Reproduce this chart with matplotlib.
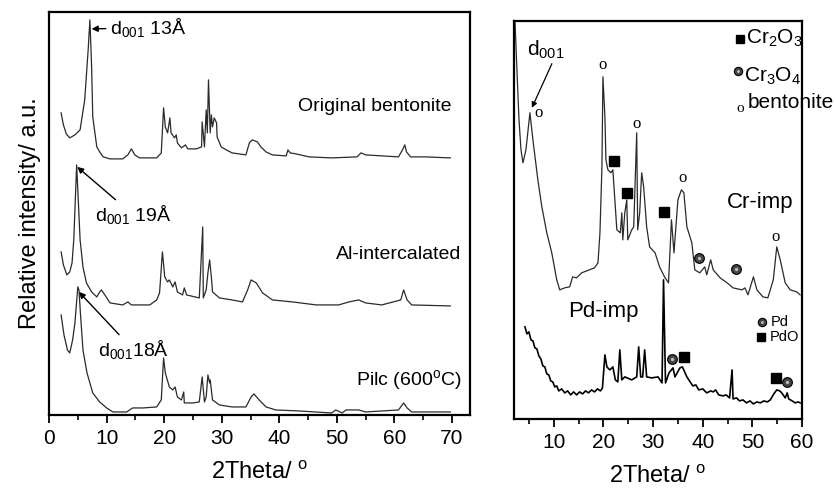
import numpy as np
import matplotlib
matplotlib.use('Agg')
import matplotlib.pyplot as plt

plt.rcParams['font.family'] = ['Liberation Sans', 'DejaVu Sans']
plt.rcParams['mathtext.fontset'] = 'custom'
plt.rcParams['mathtext.rm'] = 'Liberation Sans'
plt.rcParams['mathtext.it'] = 'Liberation Sans:italic'

# ---- left panel: XRD of bentonite samples (2theta, intensity a.u.)
orig_x = [2.1, 2.5, 3.0, 3.6, 4.5, 5.4, 6.2, 6.8, 7.1, 7.4, 7.6, 8.3, 8.8, 9.4, 10.6, 12.8, 13.7,
          14.3, 14.9, 15.7, 18.7, 19.5, 19.9, 20.2, 20.6, 21.0, 21.2, 21.8, 22.1, 22.3, 23.0, 23.7,
          24.1, 25.6, 26.5, 26.6, 27.0, 27.3, 27.5, 27.7, 28.0, 28.2, 28.4, 28.7, 29.1, 29.2, 29.9,
          30.8, 31.8, 34.2, 34.8, 35.3, 36.2, 36.8, 37.7, 38.8, 41.2, 41.5, 41.9, 42.9, 45.2, 49.1,
          53.5, 54.2, 55.0, 60.7, 61.4, 61.8, 62.1, 62.8, 65.4, 69.7]
orig_y = [302, 290, 281, 277, 280, 285, 315, 365, 395, 348, 298, 268, 263, 258, 256, 256, 260,
          266, 260, 257, 257, 262, 307, 288, 282, 297, 282, 277, 280, 272, 267, 270,
          266, 266, 268, 293, 268, 305, 282, 335, 282, 300, 288, 297, 292, 278, 268,
          265, 262, 260, 272, 275, 273, 268, 263, 260, 259, 265, 262, 261, 258, 257,
          258, 262, 260, 258, 265, 270, 263, 258, 258, 257]

al_x = [2.1, 2.5, 3.1, 3.6, 4.0, 4.3, 4.8, 5.4, 5.9, 6.5, 7.4, 8.3, 8.8, 9.1, 9.7, 10.6, 12.8,
        13.7, 14.3, 17.5, 18.7, 19.2, 19.7, 20.1, 20.6, 20.9, 21.5, 21.9, 22.3, 23.2, 23.5, 23.9,
        26.1, 26.7, 26.8, 27.3, 27.6, 27.9, 28.2, 28.4, 29.6, 31.8, 33.6, 34.5, 35.1, 36.0, 37.1,
        38.8, 42.3, 46.4, 50.3, 52.1, 53.8, 55.0, 57.8, 61.1, 61.6, 62.2, 63.0, 69.7]
al_y = [163, 150, 140, 143, 152, 175, 250, 175, 148, 132, 123, 118, 123, 125, 120, 112, 110,
        113, 110, 110, 115, 122, 163, 138, 133, 135, 128, 133, 123, 120, 127, 120,
        117, 188, 117, 125, 142, 155, 138, 123, 117, 115, 113, 125, 135, 132, 122,
        115, 113, 110, 110, 113, 115, 112, 110, 115, 125, 115, 110, 109]

pilc_x = [2.1, 2.6, 3.2, 3.6, 4.1, 4.5, 5.0, 5.2, 5.5, 5.9, 6.6, 7.6, 8.8, 10.0, 11.1, 13.5, 14.5,
          16.3, 18.7, 19.5, 19.9, 20.2, 20.9, 21.5, 21.9, 22.3, 23.0, 23.4, 23.5, 25.0, 26.1, 26.6,
          27.0, 27.3, 27.6, 27.9, 28.0, 28.4, 29.6, 31.8, 34.2, 35.1, 35.6, 36.5, 37.7, 39.4, 43.4,
          49.1, 49.8, 50.9, 51.6, 53.8, 55.0, 60.7, 61.6, 62.2, 63.0, 69.7]
pilc_y = [100, 80, 65, 62, 75, 92, 128, 125, 98, 65, 42, 22, 13, 7, 3, 3, 7,
          7, 8, 15, 57, 42, 28, 25, 28, 18, 15, 23, 12, 12, 13, 38,
          13, 18, 40, 32, 35, 15, 10, 8, 8, 18, 21, 15, 8, 5, 4,
          2, 5, 2, 5, 5, 3, 5, 12, 7, 3, 3]

# ---- right panel: Cr and Pd impregnated samples
cr_x = [2.2, 2.5, 3.0, 3.4, 3.8, 4.4, 5.2, 5.8, 6.8, 7.6, 8.6, 9.6, 10.6, 11.2, 12.2, 13.2, 13.8,
        14.6, 15.6, 18.2, 18.9, 19.3, 19.7, 19.9, 20.3, 20.5, 20.9, 21.5, 21.9, 22.3, 22.7, 23.4,
        23.7, 23.9, 24.3, 24.7, 24.9, 25.7, 26.1, 26.7, 26.9, 27.3, 27.7, 28.1, 28.7, 29.3, 30.4,
        31.3, 32.3, 33.1, 33.7, 34.2, 35.0, 35.7, 36.2, 36.8, 37.8, 38.4, 39.4, 40.4, 40.8, 41.6,
        42.1, 43.5, 44.9, 46.1, 47.9, 48.5, 49.1, 50.2, 50.9, 52.1, 53.1, 54.2, 54.9, 55.6, 56.6,
        57.6, 58.9, 59.6]
cr_y = [397, 359, 299, 269, 256, 269, 306, 279, 239, 212, 186, 166, 139, 129, 131, 132, 142,
        141, 146, 151, 156, 186, 252, 342, 302, 259, 249, 246, 249, 219, 189, 186,
        206, 179, 206, 219, 179, 189, 192, 286, 189, 206, 246, 232, 192, 172, 166,
        152, 142, 136, 199, 166, 219, 229, 226, 192, 176, 149, 146, 152, 144, 159,
        149, 141, 136, 131, 129, 131, 124, 142, 129, 122, 121, 139, 172, 159, 136,
        129, 127, 124]

pd_x = [4.2, 4.6, 5.0, 5.4, 5.8, 6.2, 6.6, 7.0, 7.4, 7.8, 8.2, 8.6, 9.0, 9.4, 9.8, 10.2, 10.6,
        11.0, 11.6, 12.2, 12.8, 13.4, 14.0, 14.6, 15.2, 15.8, 16.4, 17.0, 17.6, 18.2, 18.8, 19.4,
        19.8, 20.3, 20.7, 21.3, 21.9, 22.4, 22.9, 23.3, 23.7, 24.3, 25.7, 26.7, 27.1, 27.5, 27.9,
        28.3, 28.7, 29.7, 31.0, 31.8, 32.1, 32.5, 33.2, 34.0, 34.4, 35.4, 35.9, 36.8, 38.0, 38.6,
        39.2, 40.0, 40.8, 41.6, 42.1, 42.6, 43.2, 44.1, 44.7, 45.4, 45.9, 46.1, 46.8, 47.4, 48.1,
        48.8, 49.5, 50.2, 50.9, 51.6, 52.3, 53.0, 53.6, 54.3, 54.9, 55.5, 55.9, 56.6, 57.0, 57.3,
        58.0, 58.6, 59.2, 59.6]
pd_y = [92, 85, 87, 79, 78, 71, 70, 63, 60, 53, 52, 45, 44, 38, 37, 32, 33,
        28, 30, 26, 28, 24, 27, 24, 27, 25, 28, 26, 29, 27, 30, 28,
        31, 64, 52, 49, 52, 39, 37, 69, 39, 42, 39, 42, 72, 42, 42,
        69, 42, 41, 42, 36, 139, 36, 46, 51, 42, 51, 52, 42, 33, 34,
        29, 30, 26, 28, 27, 29, 24, 23, 24, 21, 49, 20, 21, 18, 19,
        16, 18, 15, 17, 16, 18, 17, 19, 25, 29, 28, 26, 21, 26, 20,
        18, 16, 17, 16]

# phase markers (right panel)
bent_x = [7.0, 19.9, 26.7, 36.0, 54.7]
bent_y = [306, 354, 295, 241, 182]
cr2o3_x = [22.1, 24.7, 32.2]
cr2o3_y = [258, 226, 207]
cr3o4_x = [39.2, 46.7]
cr3o4_y = [161, 150]
pd_mark_x = [33.8, 57.0]
pd_mark_y = [60, 37]
pdo_x = [36.2, 54.7]
pdo_y = [62, 41]

lc = '#2a2a2a'

fig = plt.figure(figsize=(8.35, 4.94), dpi=100)
ax1 = fig.add_axes([0.0587, 0.160, 0.504, 0.816])
ax2 = fig.add_axes([0.6156, 0.152, 0.345, 0.806])

ax1.plot(orig_x, orig_y, color=lc, lw=0.9)
ax1.plot(al_x, al_y, color=lc, lw=0.9)
ax1.plot(pilc_x, pilc_y, color=lc, lw=0.9)
ax1.set_xlim(0, 73.1)
ax1.set_ylim(0, 403)

arr = dict(arrowstyle='-|>', color='k', lw=1.0, mutation_scale=9, shrinkA=1, shrinkB=0)
ax1.annotate('d$_{001}$ 13Å', xy=(7.4, 386), xytext=(10.6, 387), fontsize=14,
             ha='left', va='center', arrowprops=arr)
ax1.annotate('d$_{001}$ 19Å', xy=(4.9, 248), xytext=(8.0, 200), fontsize=14,
             ha='left', va='center', arrowprops=arr)
ax1.annotate('d$_{001}$18Å', xy=(5.2, 123), xytext=(8.5, 65), fontsize=14,
             ha='left', va='center', arrowprops=arr)
ax1.text(69.9, 308, 'Original bentonite', fontsize=14, ha='right', va='center')
ax1.text(71.7, 160, 'Al-intercalated', fontsize=14, ha='right', va='center')
ax1.text(71.7, 35, 'Pilc (600$^{\\rm o}$C)', fontsize=14, ha='right', va='center')
ax1.set_ylabel('Relative intensity/ a.u.', fontsize=17, labelpad=6)

ax2.plot(cr_x, cr_y, color=lc, lw=0.9)
ax2.plot(pd_x, pd_y, color='k', lw=1.2)
ax2.set_xlim(2, 60)
ax2.set_ylim(0, 398)

ax2.annotate('d$_{001}$', xy=(5.6, 311), xytext=(4.6, 369), fontsize=15,
             ha='left', va='center',
             arrowprops=dict(arrowstyle='-|>', color='k', lw=0.9, mutation_scale=8,
                             shrinkA=0, shrinkB=0, relpos=(0.7, 0)))
for x, y in zip(bent_x, bent_y):
    ax2.text(x, y, 'o', family='Liberation Serif', fontsize=12, ha='center', va='center')
ax2.plot(cr2o3_x, cr2o3_y, 's', color='k', ms=7)
ax2.plot(pdo_x, pdo_y, 's', color='k', ms=7)


def shaded(ax, xs, ys, ms):
    ax.plot(xs, ys, 'o', mfc='#444444', mec='k', ms=ms, mew=0.8)
    ax.plot(xs, ys, 'o', mfc='#bbbbbb', mec='none', ms=ms * 0.35)


shaded(ax2, cr3o4_x, cr3o4_y, 7)
shaded(ax2, pd_mark_x, pd_mark_y, 7)

ax2.text(44.9, 216, 'Cr-imp', fontsize=16, ha='left', va='center')
ax2.text(12.8, 107, 'Pd-imp', fontsize=16, ha='left', va='center')

# legends
ax2.plot([47.5], [380], 's', color='k', ms=6)
ax2.text(48.7, 380, 'Cr$_2$O$_3$', fontsize=15, ha='left', va='center')
shaded(ax2, [47.0], [348], 6)
ax2.text(48.3, 342, 'Cr$_3$O$_4$', fontsize=15, ha='left', va='center')
ax2.text(47.5, 310, 'o', family='Liberation Serif', fontsize=11, ha='center', va='center')
ax2.text(49.0, 316, 'bentonite', fontsize=15, ha='left', va='center')
shaded(ax2, [51.9], [97], 6)
ax2.text(53.6, 97, 'Pd', fontsize=10.5, ha='left', va='center')
ax2.plot([51.7], [82], 's', color='k', ms=6)
ax2.text(53.4, 82, 'PdO', fontsize=10.5, ha='left', va='center')

for ax in (ax1, ax2):
    for s in ax.spines.values():
        s.set_linewidth(1.6)
    ax.set_yticks([])
    ax.set_xlabel('2Theta/ $^{\\rm o}$', fontsize=17, labelpad=10)
    ax.tick_params(axis='x', which='major', direction='out', length=6, width=1.3,
                   labelsize=15, pad=4)
    ax.tick_params(axis='x', which='minor', direction='out', length=3.5, width=1.2)

ax1.set_xticks(np.arange(0, 71, 10))
ax1.set_xticks(np.arange(5, 71, 10), minor=True)
ax2.set_xticks(np.arange(10, 61, 10))
ax2.set_xticks(np.arange(5, 61, 10), minor=True)

plt.savefig('out.png', dpi=100)
